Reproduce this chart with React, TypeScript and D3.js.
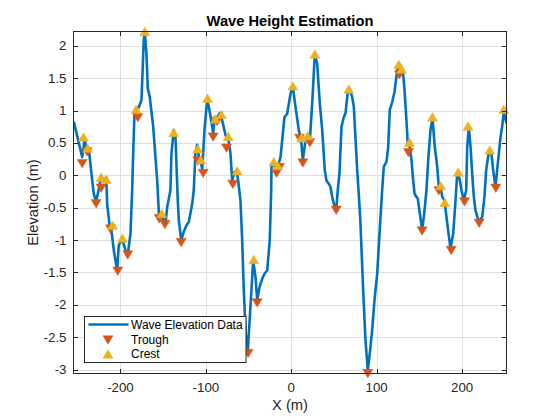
import React from 'react';
import * as d3 from 'd3';

const lineX = [-254.7,-244.8,-241.8,-239.8,-237.1,-233.1,-231.3,-228.5,-224.2,-222.6,-219.6,-216.7,-215.6,-212.5,-210.9,-207.8,-203.9,-202.0,-198.0,-194.1,-191.5,-188.3,-186.3,-185.1,-183.6,-181.3,-178.6,-175.4,-172.7,-171.5,-169.6,-168.0,-165.7,-161.7,-157.0,-154.7,-153.2,-151.2,-149.3,-147.3,-145.3,-141.5,-140.3,-137.6,-135.6,-132.9,-131.7,-128.9,-125.9,-122.7,-120.0,-116.0,-114.2,-112.2,-110.2,-108.3,-106.3,-104.3,-101.6,-98.5,-96.6,-93.8,-91.4,-89.6,-87.6,-83.7,-80.9,-77.0,-75.1,-73.2,-71.2,-69.2,-66.5,-64.2,-62.2,-59.5,-57.5,-55.6,-53.3,-50.9,-47.8,-44.6,-41.9,-39.9,-37.2,-34.1,-31.4,-28.2,-25.2,-23.5,-23.2,-20.5,-17.7,-15.8,-12.6,-8.0,-4.8,-0.9,1.8,4.9,8.8,11.6,13.5,16.6,19.3,21.7,24.5,27.5,30.3,33.4,36.2,39.2,41.2,43.9,45.9,47.9,49.8,52.6,54.4,56.4,58.8,61.5,63.5,66.2,68.2,71.3,73.2,77.2,79.5,81.0,84.2,86.9,89.6,91.9,94.7,97.4,100.6,103.3,106.4,108.3,111.5,113.5,115.3,118.2,120.9,124.0,125.9,127.9,130.6,132.6,134.6,136.4,138.4,140.8,142.7,144.3,145.4,148.1,150.5,153.3,156.0,158.3,160.3,163.0,165.4,168.0,170.9,172.7,174.7,176.7,179.4,182.6,186.4,189.6,192.3,194.3,197.0,199.3,202.0,204.8,206.0,207.9,209.9,211.8,213.7,215.7,219.6,223.6,226.2,228.2,231.3,234.1,236.4,239.1,241.8,245.0,246.9,248.8,252.0];
const lineY = [0.83,0.28,0.57,0.36,0.41,-0.08,-0.28,-0.41,-0.13,-0.02,-0.08,-0.03,-0.44,-0.80,-0.82,-1.16,-1.47,-1.08,-0.98,-1.16,-1.23,-0.90,-0.23,0.34,0.96,1.03,1.05,1.16,2.09,2.22,1.88,1.34,1.21,0.75,-0.08,-0.67,-0.64,-0.59,-0.72,-0.75,-0.49,-0.23,0.34,0.70,0.59,-0.39,-0.69,-1.00,-0.87,-0.77,-0.72,-0.44,-0.23,0.34,0.47,0.29,0.23,0.10,0.70,1.16,1.06,0.85,0.65,0.90,0.88,0.96,0.85,0.62,0.57,0.52,0.34,-0.08,0.05,0.08,-0.08,-0.39,-1.00,-1.78,-2.45,-2.70,-2.03,-1.31,-1.57,-1.93,-1.73,-1.60,-1.52,-1.47,-1.00,-0.23,0.13,0.18,0.08,0.13,0.28,0.90,0.95,1.26,1.37,1.06,0.70,0.54,0.23,0.54,0.62,0.54,1.11,1.86,1.73,1.11,0.70,0.08,-0.08,-0.13,-0.18,-0.33,-0.44,-0.54,-0.23,0.03,0.75,0.90,0.96,1.29,1.32,1.21,1.06,0.08,-0.39,-0.74,-1.78,-2.55,-3.01,-2.75,-2.39,-1.93,-1.52,-0.90,-0.23,0.13,0.21,0.44,1.01,1.13,1.29,1.62,1.70,1.60,1.62,1.32,0.90,0.49,0.47,0.23,-0.08,-0.28,-0.31,-0.36,-0.59,-0.85,-0.54,-0.23,0.23,0.70,0.88,0.44,0.13,-0.18,-0.16,-0.33,-0.39,-0.74,-1.13,-0.90,-0.39,0.03,-0.05,-0.23,-0.39,-0.23,0.44,0.75,0.44,0.03,-0.33,-0.54,-0.72,-0.64,-0.33,0.08,0.36,0.36,0.08,-0.18,0.18,0.59,0.75,0.98,0.80];

const crestX = [-243.3,-238.6,-222.6,-216.7,-209.4,-197.7,-181.6,-171.5,-151.6,-137.6,-109.5,-106.0,-98.1,-88.8,-81.7,-73.9,-63.4,-43.9,-20.5,-15.8,1.8,12.0,19.3,27.5,67.3,125.9,129.0,138.4,165.3,175.0,179.7,195.4,207.0,232.4,248.8];
const crestY = [0.59,0.42,-0.03,-0.06,-0.77,-0.97,1.02,2.22,-0.59,0.66,0.41,0.24,1.19,0.87,0.94,0.60,0.07,-1.30,0.21,0.15,1.38,0.58,0.61,1.87,1.33,1.71,1.64,0.51,0.90,-0.16,-0.42,0.05,0.76,0.39,1.02];

const troughX = [-244.8,-239.0,-228.5,-222.6,-211.7,-203.2,-191.5,-179.7,-154.7,-148.0,-128.9,-109.5,-103.2,-91.5,-86.8,-75.8,-68.5,-50.5,-40.0,-17.3,-13.8,9.6,13.5,21.7,52.6,89.6,126.7,137.2,153.2,172.7,187.2,202.8,220.0,239.5];
const troughY = [0.18,0.36,-0.44,-0.20,-0.83,-1.48,-1.23,0.89,-0.67,-0.76,-1.04,0.22,0.03,0.59,0.83,0.42,-0.14,-2.75,-1.97,0.03,0.12,0.57,0.19,0.50,-0.54,-3.06,1.55,0.35,-0.86,-0.24,-1.16,-0.41,-0.74,-0.20];

const xTicks = [-200, -100, 0, 100, 200];
const yTicks = [-3, -2.5, -2, -1.5, -1, -0.5, 0, 0.5, 1, 1.5, 2];
const xDomain = [-255, 252];
const yDomain = [-3.06, 2.22];

const legendLabels = ['Wave Elevation Data', 'Trough', 'Crest'];

const BLUE = '#0072BD';
const ORANGE = '#D95319';
const YELLOW = '#EDB120';
const AX = '#262626';
const FONT = '"Liberation Sans", Arial, Helvetica, sans-serif';

const upTri = 'M0,-4.2L5,4.2L-5,4.2Z';
const downTri = 'M0,4.2L5,-4.2L-5,-4.2Z';

export default function App() {
  const W = 560, H = 420;
  const L = 73.5, R = 506.5, T = 31.5, B = 373.5;
  const x = d3.scaleLinear().domain(xDomain).range([L, R]);
  const y = d3.scaleLinear().domain(yDomain).range([B, T]);
  const line = d3.line<number>().x((_, i) => x(lineX[i])).y((d) => y(d));
  const tickLen = 4.5;
  const fmt = (v: number) => (v < 0 ? '-' : '') + String(Math.abs(v));

  const lgX = 84.5, lgY = 316.5, lgW = 161.5, lgH = 46;

  return (
    <svg width={W} height={H} style={{ position: 'absolute', left: 0, top: 0, background: '#fff' }} fontFamily={FONT}>
      <rect x={0} y={0} width={W} height={H} fill="#fff" />
      <g stroke="#dfdfdf" strokeWidth={1}>
        {xTicks.map((t) => (
          <line key={'gx' + t} x1={Math.round(x(t)) + 0.5} x2={Math.round(x(t)) + 0.5} y1={T} y2={B} />
        ))}
        {yTicks.map((t) => (
          <line key={'gy' + t} x1={L} x2={R} y1={Math.round(y(t)) + 0.5} y2={Math.round(y(t)) + 0.5} />
        ))}
      </g>
      <defs>
        <clipPath id="clip">
          <rect x={L} y={T - 8} width={R - L} height={B - T + 16} />
        </clipPath>
      </defs>
      <path d={line(lineY) || ''} fill="none" stroke={BLUE} strokeWidth={2.6} strokeLinejoin="round" clipPath="url(#clip)" />
      {troughX.map((v, i) => (
        <path key={'t' + i} d={downTri} transform={`translate(${x(v)},${y(troughY[i])})`} fill={ORANGE} stroke={ORANGE} strokeWidth={0.5} />
      ))}
      {crestX.map((v, i) => (
        <path key={'c' + i} d={upTri} transform={`translate(${x(v)},${y(crestY[i])})`} fill={YELLOW} stroke={YELLOW} strokeWidth={0.5} />
      ))}
      <rect x={L} y={T} width={R - L} height={B - T} fill="none" stroke={AX} strokeWidth={1} />
      <g stroke={AX} strokeWidth={1}>
        {xTicks.map((t) => {
          const px = Math.round(x(t)) + 0.5;
          return (
            <g key={'tx' + t}>
              <line x1={px} x2={px} y1={B} y2={B - tickLen} />
              <line x1={px} x2={px} y1={T} y2={T + tickLen} />
            </g>
          );
        })}
        {yTicks.map((t) => {
          const py = Math.round(y(t)) + 0.5;
          return (
            <g key={'ty' + t}>
              <line x1={L} x2={L + tickLen} y1={py} y2={py} />
              <line x1={R} x2={R - tickLen} y1={py} y2={py} />
            </g>
          );
        })}
      </g>
      <g fill={AX} fontSize={13.3}>
        {xTicks.map((t) => (
          <text key={'lx' + t} x={x(t)} y={B + 18} textAnchor="middle">{fmt(t)}</text>
        ))}
        {yTicks.map((t) => (
          <text key={'ly' + t} x={L - 7} y={y(t) + 4.5} textAnchor="end">{fmt(t)}</text>
        ))}
      </g>
      <text x={(L + R) / 2} y={410} textAnchor="middle" fontSize={14.7} fill={AX}>X (m)</text>
      <text transform={`translate(38,${(T + B) / 2}) rotate(-90)`} textAnchor="middle" fontSize={14.7} fill={AX}>Elevation (m)</text>
      <text x={(L + R) / 2} y={26} textAnchor="middle" fontSize={14.7} fontWeight="bold" fill="#000">Wave Height Estimation</text>
      <g>
        <rect x={lgX} y={lgY} width={lgW} height={lgH} fill="#fff" stroke={AX} strokeWidth={1} />
        <line x1={88.5} x2={128.5} y1={324.5} y2={324.5} stroke={BLUE} strokeWidth={2.6} />
        <path d={downTri} transform="translate(108,340)" fill={ORANGE} stroke={ORANGE} strokeWidth={0.5} />
        <path d={upTri} transform="translate(108,354)" fill={YELLOW} stroke={YELLOW} strokeWidth={0.5} />
        <g fontSize={12} fill="#000">
          <text x={131} y={329}>{legendLabels[0]}</text>
          <text x={131} y={344}>{legendLabels[1]}</text>
          <text x={131} y={358}>{legendLabels[2]}</text>
        </g>
      </g>
    </svg>
  );
}
